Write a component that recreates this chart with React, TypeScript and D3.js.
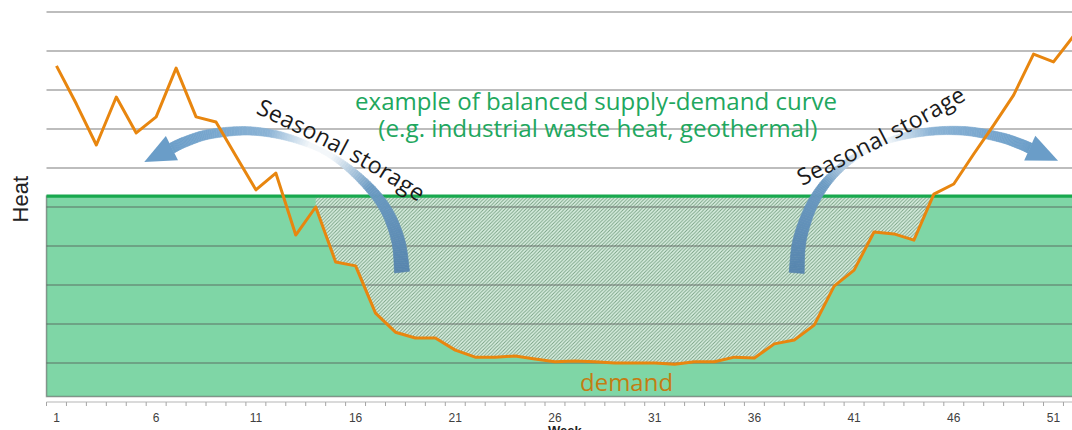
import React from 'react';
import * as d3 from 'd3';

// ---------- data ----------
const weeks: number[] = [
  1, 2, 3, 4, 5, 6, 7, 8, 9, 10, 11, 12, 13, 14, 15, 16, 17, 18, 19, 20, 21, 22, 23, 24, 25, 26,
  27, 28, 29, 30, 31, 32, 33, 34, 35, 36, 37, 38, 39, 40, 41, 42, 43, 44, 45, 46, 47, 48, 49, 50, 51, 52,
];
const demand: number[] = [
  8.62, 7.64, 6.59, 7.82, 6.9, 7.31, 8.56, 7.31, 7.18, 6.31, 5.44, 5.87, 4.28, 5.0, 3.59, 3.49,
  2.28, 1.79, 1.64, 1.64, 1.33, 1.15, 1.15, 1.18, 1.1, 1.03, 1.05, 1.03, 1.0, 1.0, 1.0, 0.97,
  1.03, 1.03, 1.15, 1.13, 1.49, 1.59, 1.97, 2.97, 3.38, 4.36, 4.31, 4.15, 5.33, 5.59, 6.36, 7.1,
  7.87, 8.92, 8.72, 9.38,
];
const weekTickLabels: number[] = [1, 6, 11, 16, 21, 26, 31, 36, 41, 46, 51];
const gridValues: number[] = [1, 2, 3, 4, 5, 6, 7, 8, 9, 10];
const supplyLevel = 5.28;
const supplyFloor = 0.14;
const storageStartWeek = 14;
const storageEndWeek = 45;

// annotation anchors in data units [week, heat]
const leftArrowPath: [number, number][] = [
  [18.33, 3.33], [18.13, 4.15], [17.48, 4.97], [16.32, 5.69], [14.72, 6.33], [12.71, 6.77],
  [10.71, 6.95], [8.7, 6.87], [7.45, 6.67], [6.79, 6.51],
];
const rightArrowPath: [number, number][] = [
  [38.12, 3.31], [38.27, 4.15], [38.88, 5.05], [39.79, 5.74], [41.04, 6.28], [42.54, 6.67],
  [44.55, 6.92], [46.55, 6.95], [48.31, 6.79], [49.31, 6.62], [49.81, 6.51],
];
const leftTextPath: [number, number][] = [[10.96, 7.41], [15.97, 6.13], [20.03, 4.82]];
const rightTextPath: [number, number][] = [[38.39, 5.54], [43.1, 6.74], [46.71, 7.77]];

function catmull(pts: [number, number][], n = 16): [number, number][] {
  const out: [number, number][] = [];
  for (let i = 0; i < pts.length - 1; i++) {
    const p0 = pts[Math.max(i - 1, 0)], p1 = pts[i], p2 = pts[i + 1], p3 = pts[Math.min(i + 2, pts.length - 1)];
    for (let j = 0; j < n; j++) {
      const t = j / n, t2 = t * t, t3 = t2 * t;
      const f = (a: number, b: number, c: number, d: number) =>
        0.5 * (2 * b + (-a + c) * t + (2 * a - 5 * b + 4 * c - d) * t2 + (-a + 3 * b - 3 * c + d) * t3);
      out.push([f(p0[0], p1[0], p2[0], p3[0]), f(p0[1], p1[1], p2[1], p3[1])]);
    }
  }
  out.push(pts[pts.length - 1]);
  return out;
}

function CurvedArrow({ pts, keyPrefix }: { pts: [number, number][]; keyPrefix: string }) {
  const s = catmull(pts);
  const lens = [0];
  for (let i = 1; i < s.length; i++) lens.push(lens[i - 1] + Math.hypot(s[i][0] - s[i - 1][0], s[i][1] - s[i - 1][1]));
  const total = lens[lens.length - 1];
  const width = d3.scaleLinear().domain([0, 0.3, 0.5, 0.65, 1]).range([15, 9.5, 4.5, 7.5, 10.5]);
  const color = d3
    .scaleLinear<string>()
    .domain([0, 0.3, 0.46, 0.54, 0.68, 1])
    .range(['#5785ae', '#6c9bc3', '#f3f7fa', '#f3f7fa', '#8bb3d5', '#6a9dc8'])
    .interpolate(d3.interpolateRgb);
  const L: [number, number][] = [];
  const R: [number, number][] = [];
  for (let i = 0; i < s.length; i++) {
    const a = s[Math.max(i - 1, 0)], b = s[Math.min(i + 1, s.length - 1)];
    const dx = b[0] - a[0], dy = b[1] - a[1];
    const len = Math.hypot(dx, dy) || 1;
    const nx = -dy / len, ny = dx / len;
    const hw = width(lens[i] / total) / 2;
    L.push([s[i][0] + nx * hw, s[i][1] + ny * hw]);
    R.push([s[i][0] - nx * hw, s[i][1] - ny * hw]);
  }
  const quads = [];
  for (let i = 0; i < s.length - 1; i++) {
    const c = color((lens[i] + lens[i + 1]) / 2 / total);
    quads.push(
      <polygon
        key={keyPrefix + i}
        points={[L[i], L[i + 1], R[i + 1], R[i]].map((p) => p.join(',')).join(' ')}
        fill={c}
        stroke={c}
        strokeWidth={0.6}
      />
    );
  }
  const e = s[s.length - 1], p = s[s.length - 3];
  const tdx = e[0] - p[0], tdy = e[1] - p[1];
  const tl = Math.hypot(tdx, tdy);
  const tx = tdx / tl, ty = tdy / tl;
  const nx = -ty, ny = tx;
  const hh = 13.5, hl = 31;
  const head = [
    [e[0] + nx * hh, e[1] + ny * hh],
    [e[0] + tx * hl, e[1] + ty * hl],
    [e[0] - nx * hh, e[1] - ny * hh],
  ];
  return (
    <g>
      {quads}
      <polygon points={head.map((q) => q.join(',')).join(' ')} fill={color(1)} />
    </g>
  );
}

export default function App() {
  const W = 1072, H = 430;
  const x = d3.scaleBand<number>().domain(weeks).range([46.5, 1083.4]).paddingInner(0).paddingOuter(0);
  const bw = x.bandwidth();
  const xc = (w: number) => (x(w) as number) + bw / 2;
  const xl = d3.scaleLinear().domain([1, weeks.length]).range([xc(1), xc(weeks.length)]);
  const y = d3.scaleLinear().domain([0, 10]).range([402, 12]);
  const [x0, x1] = x.range();

  const line = d3
    .line<number>()
    .x((_, i) => xc(weeks[i]))
    .y((d) => y(d));

  const hatchData = weeks
    .filter((w) => w >= storageStartWeek && w <= storageEndWeek)
    .map((w) => ({ w, v: Math.min(demand[w - 1], supplyLevel) }));
  const hatchArea = d3
    .area<{ w: number; v: number }>()
    .x((d) => xc(d.w))
    .y0(y(supplyLevel))
    .y1((d) => y(d.v));

  const toPx = (pts: [number, number][]) => pts.map((p) => [xl(p[0]), y(p[1])] as [number, number]);
  const textLine = d3.line<[number, number]>().curve(d3.curveNatural);

  const tickXs = weeks.map((w) => x(w) as number).concat([x1]);

  return (
    <svg
      width={W}
      height={H}
      style={{ position: 'absolute', left: 0, top: 0, background: '#fff' }}
      fontFamily="'Liberation Sans', Arial, sans-serif"
    >
      <defs>
        <pattern id="hatch" width="3.5" height="3.5" patternUnits="userSpaceOnUse">
          <rect width="3.5" height="3.5" fill="#dcf1e3" />
          <path d="M-1,1 l2,-2 M0,3.5 l3.5,-3.5 M2.5,4.5 l2,-2" stroke="#77a083" strokeWidth={0.95} />
        </pattern>
        <path id="ltxt" d={textLine(toPx(leftTextPath)) || ''} fill="none" />
        <path id="rtxt" d={textLine(toPx(rightTextPath)) || ''} fill="none" />
      </defs>

      {/* supply band */}
      <rect
        x={x0}
        y={y(supplyLevel)}
        width={x1 - x0}
        height={y(supplyFloor) - y(supplyLevel)}
        fill="#7fd6a6"
      />
      {/* storage hatch */}
      <path d={hatchArea(hatchData) || ''} fill="url(#hatch)" />

      {/* grid */}
      {gridValues.map((v) => (
        <line key={v} x1={x0} x2={x1} y1={y(v)} y2={y(v)} stroke="rgba(80,80,80,0.5)" strokeWidth={1.5} />
      ))}
      <rect
        x={x0}
        y={y(supplyLevel)}
        width={x1 - x0}
        height={y(supplyFloor) - y(supplyLevel)}
        fill="none"
        stroke="rgba(80,80,80,0.55)"
        strokeWidth={1.5}
      />
      <line x1={x0} x2={x1} y1={y(supplyLevel)} y2={y(supplyLevel)} stroke="#18a84e" strokeWidth={3.2} />

      {/* x axis */}
      <line x1={x0} x2={x1} y1={y(0)} y2={y(0)} stroke="#b5b5b5" strokeWidth={1.2} />
      {tickXs.map((tx, i) => (
        <line key={i} x1={tx} x2={tx} y1={y(0)} y2={y(0) + 4} stroke="#a5a5a5" strokeWidth={1} />
      ))}
      {weekTickLabels.map((w) => (
        <text key={w} x={xc(w)} y={422} textAnchor="middle" fontSize={12} fill="#404040">
          {w}
        </text>
      ))}
      <text x={(x0 + x1) / 2} y={435} textAnchor="middle" fontSize={13} fontWeight="bold" fill="#222">
        Week
      </text>
      <text transform={`translate(28,${y(5.2)}) rotate(-90)`} textAnchor="middle" fontSize={22} fill="#222">
        Heat
      </text>

      {/* arrows */}
      <CurvedArrow pts={toPx(leftArrowPath)} keyPrefix="l" />
      <CurvedArrow pts={toPx(rightArrowPath)} keyPrefix="r" />

      {/* demand curve */}
      <path d={line(demand) || ''} fill="none" stroke="#e8860f" strokeWidth={3} strokeLinejoin="round" />

      {/* labels */}
      <g fontFamily="'Open Sans', 'Noto Sans', sans-serif">
        <text fontSize={23} fill="#1b1b1b">
          <textPath href="#ltxt" textLength={186} lengthAdjust="spacing">
            Seasonal storage
          </textPath>
        </text>
        <text fontSize={23} fill="#1b1b1b">
          <textPath href="#rtxt" textLength={186} lengthAdjust="spacing">
            Seasonal storage
          </textPath>
        </text>
        <text x={xl(28.06)} y={y(7.49)} textAnchor="middle" fontSize={23.5} fill="#21a75e" textLength={482} lengthAdjust="spacingAndGlyphs">
          example of balanced supply-demand curve
        </text>
        <text x={xl(28.15)} y={y(6.79)} textAnchor="middle" fontSize={23.5} fill="#21a75e" textLength={439} lengthAdjust="spacingAndGlyphs">
          (e.g. industrial waste heat, geothermal)
        </text>
        <text x={xl(29.59)} y={y(0.27)} textAnchor="middle" fontSize={24} fill="#c47c12" textLength={93} lengthAdjust="spacingAndGlyphs">
          demand
        </text>
      </g>
    </svg>
  );
}
